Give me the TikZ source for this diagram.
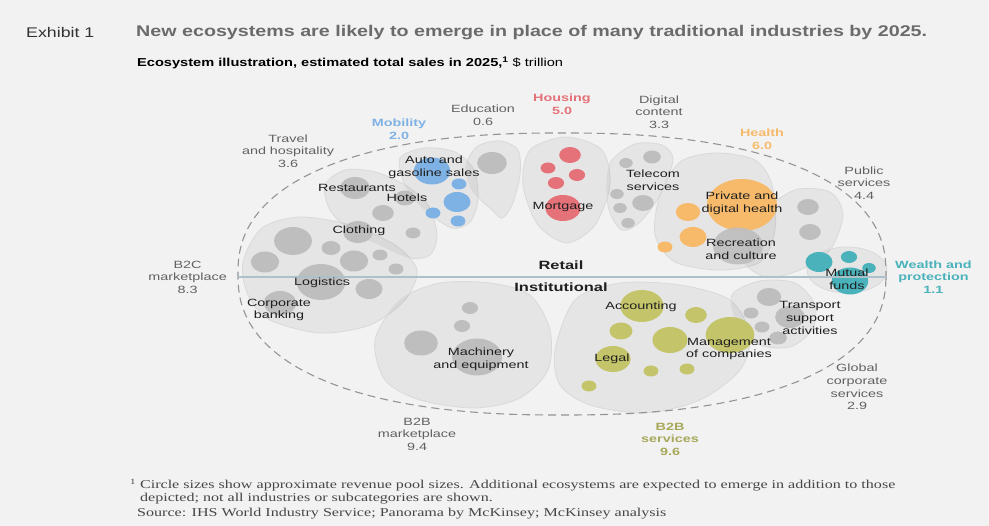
\documentclass[tikz,border=0pt]{standalone}
\usepackage{fontspec}
\setmainfont[FakeStretch=1.37]{Liberation Sans}
\newfontfamily\headfont[FakeStretch=1.27]{Liberation Sans}
\newfontfamily\notefont[FakeStretch=1.34]{Liberation Serif}
\usetikzlibrary{positioning}
\definecolor{paper}{RGB}{242,242,242}
\definecolor{dot}{RGB}{190,190,190}
\definecolor{mobil}{RGB}{127,178,228}
\definecolor{house}{RGB}{229,113,121}
\definecolor{heal}{RGB}{247,186,106}
\definecolor{wealth}{RGB}{74,178,187}
\definecolor{btob}{RGB}{196,197,106}
\definecolor{divide}{RGB}{172,194,203}
\newcommand{\bub}[4]{\fill[#1] (#2,#3) ellipse [x radius={1.35*#4pt}, y radius={#4pt}];}

\begin{document}
\begin{tikzpicture}[x=1pt,y=-1pt,
	pool/.style={fill=black,fill opacity=.05,draw=black!15,line width=.8pt},
	lab/.style={align=center,inner sep=0pt,text=black!62,font=\fontsize{10.5}{12.6}\selectfont},
	inlab/.style={lab,text=black!88},
	cat/.style={lab,font=\fontsize{10.5}{12.6}\selectfont\bfseries}]
	\fill[paper] (0,0) rectangle (989,526);
	\useasboundingbox (0,0) rectangle (989,526);
	\coordinate (eco) at (562,274);   \coordinate (west) at (238,277);
	\coordinate (east) at (886,277);  \coordinate (mid) at (561,277);

	% revenue pools
	\path[pool] plot[smooth cycle] coordinates {(243,262) (262,228) (300,217) (350,225) (395,245) (417,270) (405,300) (370,325) (320,333) (270,320) (248,295)};
	\path[pool] plot[smooth cycle] coordinates {(325,185) (345,170) (375,172) (405,185) (428,205) (437,235) (430,255) (410,258) (380,245) (350,230) (330,210)};
	\path[pool] plot[smooth cycle] coordinates {(400,158) (425,148) (455,152) (474,170) (478,200) (470,222) (452,228) (425,210) (405,185)};
	\path[pool] plot[smooth cycle] coordinates {(466,165) (478,146) (500,141) (518,150) (520,175) (512,205) (502,218) (492,210) (472,190)};
	\path[pool] plot[smooth cycle] coordinates {(530,150) (566,137) (602,150) (610,185) (595,225) (567,243) (538,225) (523,185)};
	\path[pool] plot[smooth cycle] coordinates {(612,160) (635,144) (662,145) (673,160) (660,195) (640,222) (622,230) (609,210) (607,180)};
	\path[pool] plot[smooth cycle] coordinates {(660,195) (680,162) (715,153) (755,160) (772,185) (775,230) (760,262) (720,270) (675,262) (655,235)};
	\path[pool] plot[smooth cycle] coordinates {(740,255) (760,215) (795,190) (830,192) (843,215) (830,250) (800,270) (765,277)};
	\path[pool] (847,270) ellipse [x radius=40pt, y radius=23pt];
	\path[pool] plot[smooth cycle] coordinates {(375,340) (400,300) (440,283) (490,283) (530,295) (550,330) (548,370) (520,398) (475,408) (420,400) (385,380)};
	\path[pool] plot[smooth cycle] coordinates {(555,350) (575,300) (620,283) (680,285) (730,300) (750,335) (740,370) (700,400) (645,413) (590,405) (560,385)};
	\path[pool] plot[smooth cycle] coordinates {(732,295) (760,281) (795,283) (815,305) (812,330) (790,347) (760,345) (738,325)};

	% circles
	\bub{dot}{293}{241}{14}     \bub{dot}{265}{262}{10.5}   \bub{dot}{331}{248}{7}
	\bub{dot}{354}{261}{10.5}   \bub{dot}{380}{255}{5.5}    \bub{dot}{396}{269}{5.5}
	\bub{dot}{321}{282}{18}     \bub{dot}{369}{289}{10}     \bub{dot}{280}{303}{12}
	\bub{dot}{355}{188}{11}     \bub{dot}{405}{198}{7.5}    \bub{dot}{383}{213}{8}
	\bub{dot}{358}{232}{11}     \bub{dot}{413}{233}{5.5}    \bub{dot}{492}{163}{11}
	\bub{dot}{652}{157}{6.5}    \bub{dot}{626}{163}{5}      \bub{dot}{617}{194}{5}
	\bub{dot}{620}{208}{5}      \bub{dot}{643}{203}{8}      \bub{dot}{628}{223}{5}
	\bub{dot}{808}{207}{8}      \bub{dot}{810}{232}{8}
	\bub{dot}{470}{308}{6}      \bub{dot}{462}{326}{6}      \bub{dot}{421}{343}{12.5}
	\bub{dot}{477}{357}{18.5}
	\bub{dot}{769}{297}{9}      \bub{dot}{751}{313}{5.5}    \bub{dot}{762}{327}{5.5}
	\bub{dot}{778}{338}{6.5}    \bub{dot}{790}{317}{11}
	\bub{mobil}{432}{171}{13.5} \bub{mobil}{459}{184}{5.5}  \bub{mobil}{457}{202}{10}
	\bub{mobil}{433}{213}{5.5}  \bub{mobil}{458}{221}{5.5}
	\bub{house}{570}{155}{8}    \bub{house}{548}{168}{5.5}  \bub{house}{577}{175}{6}
	\bub{house}{556}{183}{6}    \bub{house}{563}{208}{13}
	\bub{heal}{742}{205}{26}    \bub{heal}{688}{212}{9}     \bub{heal}{693}{237}{10}
	\bub{heal}{665}{247}{5.5}
	\bub{dot,opacity=.9}{738}{246}{18.5}
	\bub{wealth}{819}{262}{10}  \bub{wealth}{849}{257}{6}   \bub{wealth}{869}{268}{5}
	\bub{wealth}{850}{281}{13.5}
	\bub{btob}{642}{306}{16}    \bub{btob}{621}{331}{8.5}   \bub{btob}{696}{315}{8}
	\bub{btob}{670}{340}{13}    \bub{btob}{730}{335}{18}    \bub{btob}{613}{359}{13}
	\bub{btob}{651}{371}{5.5}   \bub{btob}{687}{369}{5.5}   \bub{btob}{589}{386}{5.5}

	% outer ring (squarish ellipse) and retail/institutional split
	\draw[black!42,dashed,dash pattern=on 8pt off 5pt,line width=1.1pt] plot[domain=1:361,samples=121,smooth]
		({562+324*sign(cos(\x))*abs(cos(\x))^0.85}, {274+141*sign(sin(\x))*abs(sin(\x))^0.85});
	\draw[divide,line width=1.2pt] (west) -- (east);

	% ecosystem names
	\node [lab] (edu) at (483,115) {Education\\0.6};
	\node [cat,text=house] (housing) at (562,104) {Housing\\5.0};
	\node [lab] (digital) at (659,112) {Digital\\content\\3.3};
	\node [cat,text=mobil] (mobility) at (399,129) {Mobility\\2.0};
	\node [lab] (travel) at (288,151) {Travel\\and hospitality\\3.6};
	\node [cat,text=heal] (health) at (762,139) {Health\\6.0};
	\node [lab] (public) at (864,183) {Public\\services\\4.4};
	\node [lab,left = 11pt of west] (b2c) {B2C\\marketplace\\8.3};
	\node [cat,text=wealth,right = 9pt of east] (wealth) {Wealth and\\protection\\1.1};
	\node [lab] (b2bm) at (417,434) {B2B\\marketplace\\9.4};
	\node [cat,text=btob!85!black] (b2bs) at (670,439) {B2B\\services\\9.6};
	\node [lab] (global) at (857,387) {Global\\corporate\\services\\2.9};

	% industries
	\node [inlab] (auto) at (434,167) {Auto and\\gasoline sales};
	\node [inlab] (rest) at (357,188) {Restaurants};
	\node [inlab] (hotel) at (407,198) {Hotels};
	\node [inlab] (cloth) at (359,231) {Clothing};
	\node [inlab] (logis) at (322,283) {Logistics};
	\node [inlab] (corp) at (279,310) {Corporate\\banking};
	\node [inlab] (mort) at (563,207) {Mortgage};
	\node [inlab] (tele) at (653,180) {Telecom\\services};
	\node [inlab] (priv) at (742,203) {Private and\\digital health};
	\node [inlab] (recr) at (741,249) {Recreation\\and culture};
	\node [inlab] (fund) at (847,279) {Mutual\\funds};
	\node [inlab] (trans) at (810,318) {Transport\\support\\activities};
	\node [inlab] (acct) at (641,307) {Accounting};
	\node [inlab] (mgmt) at (729,349) {Management\\of companies};
	\node [inlab] (legal) at (612,359) {Legal};
	\node [inlab] (mach) at (481,359) {Machinery\\and equipment};
	\node [inlab,font=\fontsize{12}{14}\selectfont\bfseries,above = 7pt of mid] (retail) {Retail};
	\node [inlab,font=\fontsize{12}{14}\selectfont\bfseries,below = 6pt of mid] (inst) {Institutional};

	% header and notes
	\node [anchor=west,inner sep=0pt,text=black!80,font=\headfont\fontsize{14}{16}\selectfont] (exh) at (26,33) {Exhibit 1};
	\node [anchor=west,inner sep=0pt,text=black!58,font=\headfont\fontsize{15.5}{17}\selectfont\bfseries] (title) at (136,33) {New ecosystems are likely to emerge in place of many traditional industries by 2025.};
	\node [anchor=west,inner sep=0pt,text=black,font=\headfont\fontsize{11.5}{13}\selectfont] (sub) at (137,63) {\textbf{Ecosystem illustration, estimated total sales in 2025,\textsuperscript{1}} \$ trillion};
	\node [anchor=west,inner sep=0pt,align=left,text=black!72,font=\notefont\fontsize{12}{13}\selectfont] (note) at (130,491.5) {\textsuperscript{1} Circle sizes show approximate revenue pool sizes. Additional ecosystems are expected to emerge in addition to those\\\hphantom{\textsuperscript{1} }depicted; not all industries or subcategories are shown.};
	\node [anchor=west,inner sep=0pt,text=black!72,font=\notefont\fontsize{12}{13}\selectfont] (source) at (137,514) {Source: IHS World Industry Service; Panorama by McKinsey; McKinsey analysis};
\end{tikzpicture}
\end{document}
